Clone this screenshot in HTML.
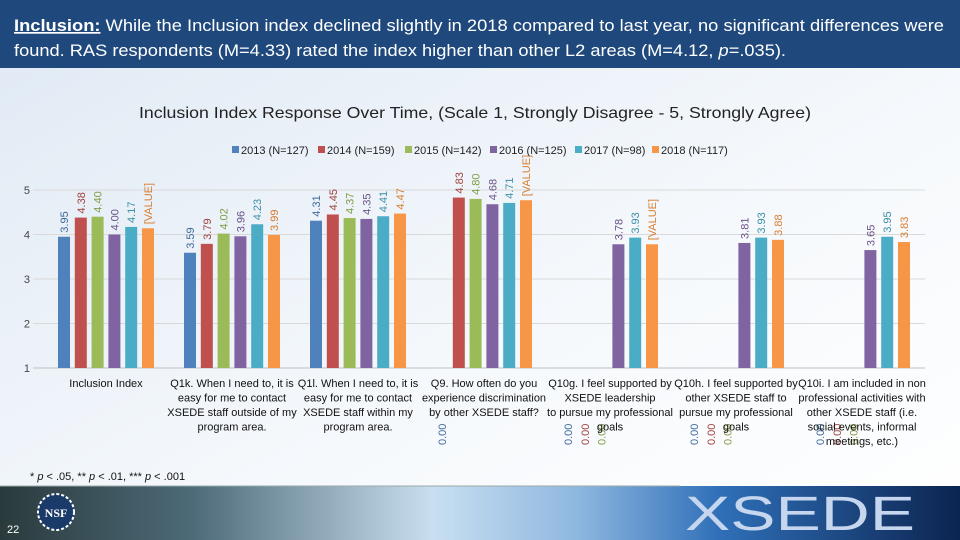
<!DOCTYPE html>
<html><head><meta charset="utf-8">
<style>
html,body{margin:0;padding:0;width:960px;height:540px;overflow:hidden;background:#fff;}
svg{display:block;font-family:"Liberation Sans",sans-serif;}
</style></head>
<body>
<svg id="chart" width="960" height="540" viewBox="0 0 960 540">
<defs>
<linearGradient id="bg" x1="0" y1="0" x2="1" y2="1">
<stop offset="0" stop-color="#dfe9f4"/><stop offset="0.6" stop-color="#f6f9fc"/><stop offset="1" stop-color="#ffffff"/>
</linearGradient>
<linearGradient id="foot" x1="0" y1="0" x2="1" y2="0">
<stop offset="0" stop-color="#2a3a3c"/><stop offset="0.2" stop-color="#4d6a78"/><stop offset="0.45" stop-color="#c9dff0"/><stop offset="0.6" stop-color="#8fb8e0"/><stop offset="0.75" stop-color="#2f6fb8"/><stop offset="1" stop-color="#0c2450"/>
</linearGradient>
</defs>
<rect x="0" y="0" width="960" height="540" fill="url(#bg)"/>
<rect x="0" y="0" width="960" height="68" fill="#1f497d"/>
<text x="14" y="31" font-size="17" fill="#fff" textLength="930" lengthAdjust="spacingAndGlyphs"><tspan font-weight="bold" text-decoration="underline">Inclusion:</tspan> While the Inclusion index declined slightly in 2018 compared to last year, no significant differences were</text>
<text x="14" y="56" font-size="17" fill="#fff" textLength="772" lengthAdjust="spacingAndGlyphs">found. RAS respondents (M=4.33) rated the index higher than other L2 areas (M=4.12, <tspan font-style="italic">p</tspan>=.035).</text>
<text x="475" y="118" font-size="16" fill="#222" text-anchor="middle" textLength="672" lengthAdjust="spacingAndGlyphs">Inclusion Index Response Over Time, (Scale 1, Strongly Disagree - 5, Strongly Agree)</text>
<g id="grid"></g>
<g id="bars"></g>
<g id="legend"></g>
<g id="cats"></g>
<rect x="0" y="486" width="960" height="54" fill="url(#foot)"/>
<line x1="0" y1="486" x2="680" y2="486" stroke="#9aa" stroke-width="1"/>
<text x="30" y="480" font-size="11" fill="#111">* <tspan font-style="italic">p</tspan> &lt; .05, ** <tspan font-style="italic">p</tspan> &lt; .01, *** <tspan font-style="italic">p</tspan> &lt; .001</text>
<circle cx="56" cy="512" r="18" fill="#1a3a6a" stroke="#fff" stroke-width="2" stroke-dasharray="3 2"/>
<text x="56" y="517" font-size="12" font-weight="bold" fill="#fff" text-anchor="middle" font-family="Liberation Serif,serif">NSF</text>
<text x="7" y="533" font-size="11" fill="#fff">22</text>
<text x="800" y="530" font-size="48" fill="#c5d6ee" text-anchor="middle" textLength="230" lengthAdjust="spacingAndGlyphs">XSEDE</text>
</svg>
<script>
const categories = [
 ["Inclusion Index"],
 ["Q1k. When I need to, it is","easy for me to contact","XSEDE staff outside of my","program area."],
 ["Q1l. When I need to, it is","easy for me to contact","XSEDE staff within my","program area."],
 ["Q9. How often do you","experience discrimination","by other XSEDE staff?"],
 ["Q10g. I feel supported by","XSEDE leadership","to pursue my professional","goals"],
 ["Q10h. I feel supported by","other XSEDE staff to","pursue my professional","goals"],
 ["Q10i. I am included in non","professional activities with","other XSEDE staff (i.e.","social events, informal","meetings, etc.)"]
];
const seriesNames = ["2013 (N=127)","2014 (N=159)","2015 (N=142)","2016 (N=125)","2017 (N=98)","2018 (N=117)"];
const v2013 = [3.95,3.59,4.31,0,0,0,0];
const v2014 = [4.38,3.79,4.45,4.83,0,0,0];
const v2015 = [4.40,4.02,4.37,4.80,0,0,0];
const v2016 = [4.00,3.96,4.35,4.68,3.78,3.81,3.65];
const v2017 = [4.17,4.23,4.41,4.71,3.93,3.93,3.95];
const v2018 = [4.14,3.99,4.47,4.77,3.78,3.88,3.83];
const labels2018 = ["[VALUE]","3.99","4.47","[VALUE]","[VALUE]","3.88","3.83"];
const yTicks = [1,2,3,4,5];

const series = [v2013,v2014,v2015,v2016,v2017,v2018];
const colors = ["#4f81bd","#c0504d","#9bbb59","#8064a2","#4bacc6","#f79646"];
const labelColors = ["#3f6a9c","#a04240","#7f9c46","#6a5288","#3d8fa6","#d97d30"];
const NS="http://www.w3.org/2000/svg";
const plotL=43, plotR=925, yMin=1, yMax=5, y1px=368, y5px=190;
const y = v => y1px - (v-yMin)*(y1px-y5px)/(yMax-yMin);
const groupW=(plotR-plotL)/categories.length;
const gx = i => plotL + (i+0.5)*groupW;
const slot=16.8, bw=12;
function mk(tag,attrs,parent,txt){const e=document.createElementNS(NS,tag);for(const k in attrs)e.setAttribute(k,attrs[k]);if(txt!==undefined)e.textContent=txt;parent.appendChild(e);return e;}
const grid=document.getElementById('grid'),bars=document.getElementById('bars'),leg=document.getElementById('legend'),cats=document.getElementById('cats');
yTicks.forEach(t=>{
 const l=mk('line',{x1:plotL-10,x2:plotR,y1:y(t),y2:y(t),stroke:t===1?'#bfbfbf':'#d9d9d9','stroke-width':1},grid);
 
 
 const tx=mk('text',{x:30,y:y(t)+4,'font-size':11,fill:'#444','text-anchor':'end'},grid,String(t));
 
 
});
series.forEach((vals,s)=>{
 vals.forEach((v,i)=>{
  const cx=gx(i)+(s-2.5)*slot;
  const lab = s===5 ? labels2018[i] : v.toFixed(2);
  if(v>=yMin){
   const r=mk('rect',{x:cx-bw/2,y:y(v),width:bw,height:y1px-y(v),fill:colors[s]},bars);
   
   
   const ty=y(v)-4;
   const t=mk('text',{x:cx+4,y:ty,'font-size':11,fill:labelColors[s],transform:`rotate(-90 ${cx+4} ${ty})`},bars,lab);
   
   
  } else {
   const ty=445;
   const t=mk('text',{x:cx+4,y:ty,'font-size':11,fill:labelColors[s],transform:`rotate(-90 ${cx+4} ${ty})`},bars,lab);
   
   
  }
 });
});
const legX=[232,318,405,490,575,652];
seriesNames.forEach((n,s)=>{
 const g=mk('g',{},leg);
 
 
 mk('rect',{x:legX[s],y:146,width:7,height:7,fill:colors[s]},g);
 mk('text',{x:legX[s]+9,y:154,'font-size':11,fill:'#222'},g,n);
});
categories.forEach((lines,i)=>{
 const t=mk('text',{x:gx(i),y:387,'font-size':11,fill:'#111','text-anchor':'middle'},cats);
 
 
 lines.forEach((ln,k)=>mk('tspan',{x:gx(i),dy:k===0?0:14.5},t,ln));
});
</script>
</body></html>
